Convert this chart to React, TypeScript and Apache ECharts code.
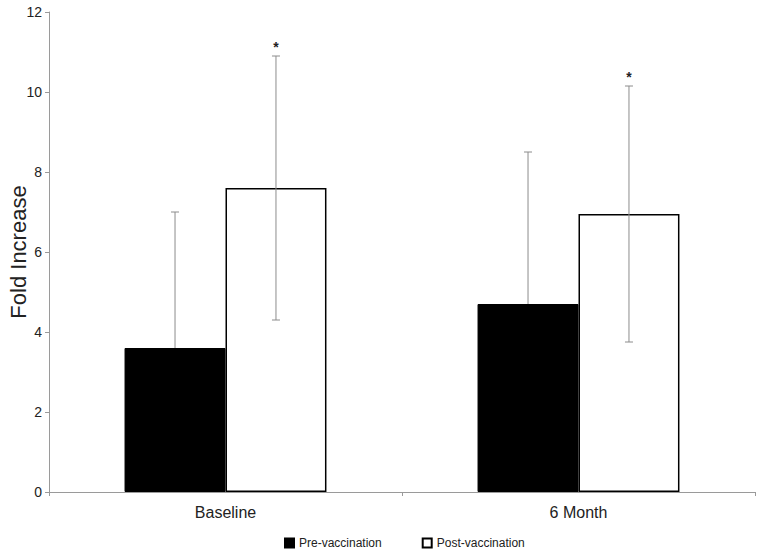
import React, { useEffect, useRef } from "react";
import * as echarts from "echarts";

const categories = ["Baseline", "6 Month"];
const seriesNames = ["Pre-vaccination", "Post-vaccination"];
const preValues = [3.6, 4.7];
const preSD = [3.4, 3.8];
const postValues = [7.6, 6.95];
const postSD = [3.3, 3.2];
const postSignificant = [1, 1];
const yTicks = { min: 0, max: 12, interval: 2 };

const BAR_FRAC = 0.286;
const FONT = "'Liberation Sans', Arial, Helvetica, sans-serif";

function makeErrorRender(side: number) {
  return (params: any, api: any) => {
    const cat = api.value(0);
    const v = api.value(1);
    const sd = api.value(2);
    const sig = api.value(3);
    const band = api.size([1, 0])[0];
    const off = (side * band * BAR_FRAC) / 2;
    const top = api.coord([cat, v + sd]);
    const bot = api.coord([cat, v - sd]);
    const x = top[0] + off;
    const capW = 4;
    const stroke = { stroke: "#8c8c8c", lineWidth: 1 };
    const children: any[] = [
      { type: "line", shape: { x1: x, y1: top[1], x2: x, y2: bot[1] }, style: stroke },
      { type: "line", shape: { x1: x - capW, y1: top[1], x2: x + capW, y2: top[1] }, style: stroke },
      { type: "line", shape: { x1: x - capW, y1: bot[1], x2: x + capW, y2: bot[1] }, style: stroke },
    ];
    if (sig) {
      children.push({
        type: "text",
        x: x,
        y: top[1] - 9,
        style: {
          text: "*",
          fontSize: 14,
          fontWeight: "bold",
          fontFamily: FONT,
          fill: "#222",
          align: "center",
          verticalAlign: "middle",
        },
      });
    }
    return { type: "group", children };
  };
}

export default function App() {
  const ref = useRef<HTMLDivElement>(null);
  useEffect(() => {
    if (!ref.current) return;
    const chart = echarts.init(ref.current, undefined, { renderer: "svg" });
    const preErr = categories.map((_, i) => [i, preValues[i], preSD[i], 0]);
    const postErr = categories.map((_, i) => [i, postValues[i], postSD[i], postSignificant[i]]);
    chart.setOption({
      animation: false,
      backgroundColor: "#ffffff",
      grid: { left: 49, right: 7, top: 12, bottom: 59, containLabel: false, outerBoundsMode: "none" },
      legend: {
        data: seriesNames,
        top: 532,
        left: 279,
        itemWidth: 9,
        itemHeight: 9,
        itemGap: 40,
        icon: "rect",
        textStyle: { fontSize: 12, fontFamily: FONT, color: "#222" },
      },
      xAxis: {
        type: "category",
        data: categories,
        axisLine: { lineStyle: { color: "#9a9a9a", width: 1 } },
        axisTick: { show: true, length: 4, lineStyle: { color: "#9a9a9a" } },
        axisLabel: { fontSize: 16, fontFamily: FONT, color: "#222", margin: 12 },
      },
      yAxis: {
        type: "value",
        min: yTicks.min,
        max: yTicks.max,
        interval: yTicks.interval,
        name: "Fold Increase",
        nameLocation: "middle",
        nameGap: 20,
        nameMoveOverlap: false,
        nameTextStyle: { fontSize: 22, fontFamily: FONT, color: "#222" },
        axisLine: { show: true, lineStyle: { color: "#9a9a9a", width: 1 } },
        axisTick: { show: true, length: 4, lineStyle: { color: "#9a9a9a" } },
        axisLabel: { fontSize: 14, fontFamily: FONT, color: "#222", margin: 7 },
        splitLine: { show: false },
      },
      series: [
        {
          name: seriesNames[0],
          type: "bar",
          data: preValues,
          barWidth: BAR_FRAC * 100 + "%",
          barGap: "0%",
          z: 2,
          itemStyle: { color: "#000000", borderColor: "#000000", borderWidth: 1 },
        },
        {
          name: seriesNames[1],
          type: "bar",
          data: postValues,
          barWidth: BAR_FRAC * 100 + "%",
          barGap: "0%",
          z: 2,
          itemStyle: { color: "#ffffff", borderColor: "#000000", borderWidth: 1.5 },
        },
        {
          name: "preErr",
          type: "custom",
          data: preErr,
          z: 1,
          renderItem: makeErrorRender(-1),
          encode: { x: 0, y: 1 },
        },
        {
          name: "postErr",
          type: "custom",
          data: postErr,
          z: 3,
          renderItem: makeErrorRender(1),
          encode: { x: 0, y: 1 },
        },
      ],
    });
    return () => chart.dispose();
  }, []);
  return (
    <div
      ref={ref}
      style={{ position: "fixed", left: 0, top: 0, width: 762, height: 551 }}
    />
  );
}
